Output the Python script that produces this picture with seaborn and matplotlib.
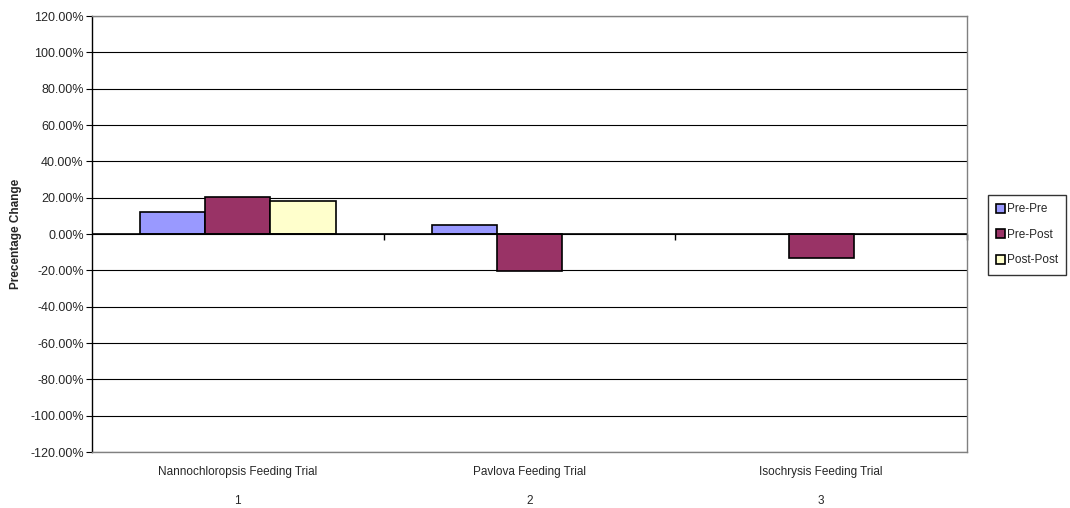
import matplotlib
matplotlib.use("Agg")
import matplotlib.pyplot as plt
import seaborn as sns
import pandas as pd
import numpy as np

# Data (percentage change per feeding trial)
trials = ["Nannochloropsis Feeding Trial", "Pavlova Feeding Trial", "Isochrysis Feeding Trial"]
trial_numbers = ["1", "2", "3"]
series = ["Pre-Pre", "Pre-Post", "Post-Post"]
pre_pre = [12.0, 4.8, np.nan]
pre_post = [20.2, -20.5, -13.4]
post_post = [18.2, np.nan, np.nan]
colors = ["#9999FF", "#993366", "#FFFFCC"]

rows = []
for s, vals in zip(series, [pre_pre, pre_post, post_post]):
    for t, v in zip(trials, vals):
        rows.append({"trial": t, "series": s, "value": v})
df = pd.DataFrame(rows)

sns.set_style("white")
plt.rcParams["font.family"] = ["Liberation Sans", "DejaVu Sans"]

fig = plt.figure(figsize=(10.7, 5.08), dpi=100)
ax = fig.add_axes([0.086, 0.1102, 0.8177, 0.8583])

sns.barplot(data=df, x="trial", y="value", hue="series", order=trials,
            hue_order=series, palette=colors, saturation=1, width=0.67, ax=ax,
            edgecolor="black", linewidth=1.2, errorbar=None, legend=True)

ax.set_ylim(-120, 120)
ax.set_xlim(-0.5, 2.5)
yt = np.arange(-120, 121, 20)
ax.set_yticks(yt)
ax.set_yticklabels([f"{v:.2f}%" for v in yt], fontsize=9)
ax.yaxis.grid(True, color="black", linewidth=0.8)
ax.set_axisbelow(True)
ax.tick_params(axis="y", direction="out", length=4, width=0.8, color="black",
               left=True, pad=2)

ax.set_xticks(range(len(trials)))
ax.set_xticklabels([f"{t}\n\n{n}" for t, n in zip(trials, trial_numbers)],
                   fontsize=8.5, linespacing=1.3)
ax.tick_params(axis="x", length=0, pad=10)
ax.set_xlabel("")
ax.set_ylabel("Precentage Change", fontsize=8.5, fontweight="bold", labelpad=6)

for side in ["top", "right", "bottom"]:
    ax.spines[side].set_color("#808080")
    ax.spines[side].set_linewidth(1.0)
ax.spines["left"].set_color("black")
ax.spines["left"].set_linewidth(1.0)

# Category axis drawn along the zero line with ticks between groups
ax.axhline(0, color="black", linewidth=1.2, zorder=1.5)
sec = ax.secondary_xaxis(0.5)
sec.set_xticks([0.5, 1.5, 2.5])
sec.set_xticklabels([])
sec.tick_params(direction="in", length=4, width=1.0, color="black")
sec.spines["bottom"].set_visible(False)
sec.spines["top"].set_visible(False)

leg = ax.legend(loc="upper left", bbox_to_anchor=(0.923, 0.616),
                bbox_transform=fig.transFigure, fontsize=8.5, frameon=True,
                fancybox=False, edgecolor="black", handlelength=0.75,
                handleheight=0.75, handletextpad=0.2, labelspacing=1.15,
                borderpad=0.7, borderaxespad=0, title=None)
leg.get_frame().set_linewidth(1.0)

fig.savefig("out.png", dpi=100)
